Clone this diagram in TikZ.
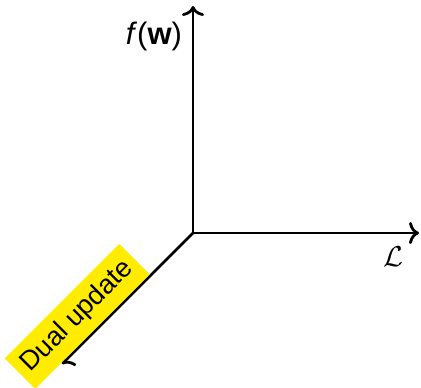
\documentclass[tikz,border=0pt]{standalone}
\usepackage{fontspec}
\setmainfont{Liberation Sans}
\setsansfont{Liberation Sans}
\usepackage{tikz}
\usetikzlibrary{
  arrows.meta,
  positioning,
  calc
}
\definecolor{axiscolor}{RGB}{0, 0, 0}
\definecolor{dualcolor}{RGB}{255, 236, 0}
\definecolor{labelcolor}{RGB}{0, 0, 0}
\tikzset{
axis/.style={
  -{To[length=5pt,width=11pt]},
  line width=1.4pt,
  draw=axiscolor
},
axislabel/.style={
  font=\fontsize{15.5}{18}\selectfont,
  text=labelcolor,
  inner sep=0pt
},
duallabel/.style={
  fill=dualcolor,
  font=\fontsize{13.5}{16}\selectfont,
  text=labelcolor,
  minimum width=81pt,
  minimum height=21.5pt,
  inner sep=0pt
}
}
\begin{document}
\begin{tikzpicture}[x=0.5pt, y=-0.5pt]

\useasboundingbox (0,0) rectangle (421,387);

% ============================================================================
% ASSI
% ============================================================================
\coordinate (origin) at (193,233);
\coordinate (fend) at (193,6);
\coordinate (lend) at (419,233);
\coordinate (dend) at (62,364);

\draw[axis] (origin) -- (fend);
\draw[axis] (origin) -- (lend);
\draw[axis] (origin) -- (dend)
  node[duallabel, pos=0.76, sloped, above=0pt] (dual) {Dual update};

% ============================================================================
% ETICHETTE
% ============================================================================
\node[axislabel] (flabel) at (154,36) {\textit{f}(\textbf{w})};
\node[axislabel] (llabel) at (393,257) {$\mathcal{L}$};

\end{tikzpicture}
\end{document}
